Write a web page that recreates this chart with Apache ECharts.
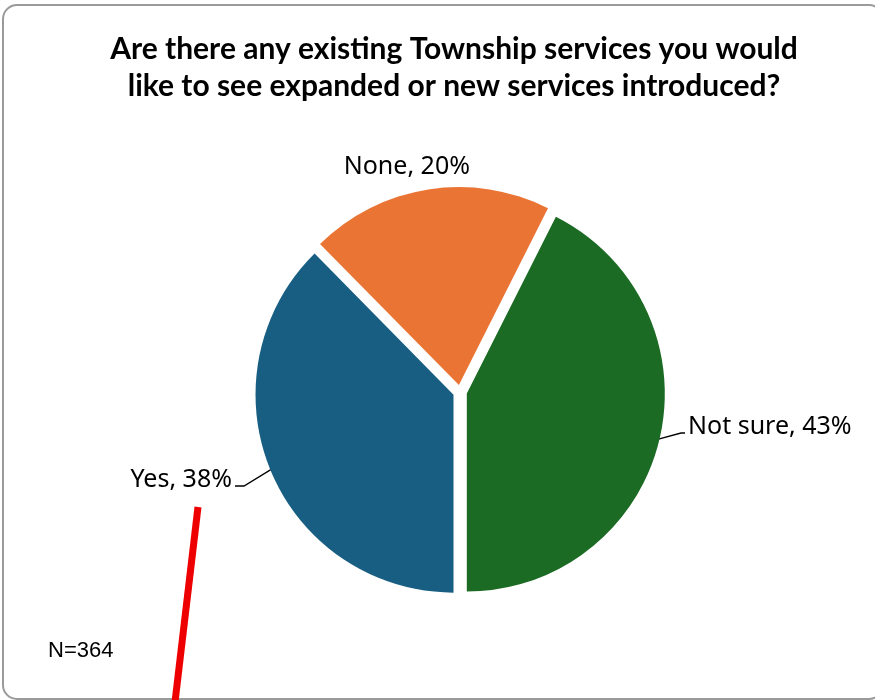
<!DOCTYPE html>
<html><head><meta charset="utf-8">
<script src="https://cdn.jsdelivr.net/npm/echarts@6/dist/echarts.min.js"></script>
<style>html,body{margin:0;padding:0;background:#fff}#c{width:875px;height:700px}</style>
</head><body><div id="c"></div>
<script>
const titleText = "Are there any existing Township services you would\nlike to see expanded or new services introduced?";
const categories = ["Yes", "None", "Not sure"];
const values = [38, 20, 43];
const colors = ["#175E82", "#EA7434", "#1C6B24"];
const noteText = "N=364";

const pieCenter = [460, 392];
const pieRadius = 198;
const explode = 7;
const pieStartDeg = -90;
const labelPos = {
  0: {x: 232, y: 480, align: 'right'},
  1: {x: 470, y: 167, align: 'right'},
  2: {x: 688, y: 427, align: 'left'}
};

const total = values.reduce((a, b) => a + b, 0);
function midDir(i) {
  let cum = 0;
  for (let j = 0; j < i; j++) cum += values[j];
  const frac = (cum + values[i] / 2) / total;
  const a = (pieStartDeg - frac * 360) * Math.PI / 180; // clockwise
  return [Math.cos(a), -Math.sin(a)];
}

function makeSeries(k) {
  const d = midDir(k);
  const c = [pieCenter[0] + d[0] * explode, pieCenter[1] + d[1] * explode];
  const l = labelPos[k];
  return {
    type: 'pie',
    name: categories[k],
    center: c,
    radius: pieRadius,
    startAngle: pieStartDeg,
    clockwise: true,
    silent: true,
    emphasis: {disabled: true},
    label: {
      show: true, position: 'outside',
      formatter: p => p.name + ', ' + p.value + '%',
      fontFamily: 'Noto Sans', fontSize: 25, color: '#000'
    },
    labelLine: {show: true, length: 10, length2: 8, smooth: false, lineStyle: {color: '#000', width: 1.3}},
    labelLayout: function (p) {
      const res = {x: l.x, y: l.y, align: l.align, verticalAlign: 'middle'};
      if (k !== 1) {
        const start = [c[0] + d[0] * (pieRadius - 1), c[1] + d[1] * (pieRadius - 1)];
        const dir = l.align === 'left' ? -1 : 1;
        const end = [l.x + dir * 3, l.y + 6];
        const elbow = [end[0] + dir * (l.align === 'left' ? 4 : 9), end[1]];
        res.labelLinePoints = [start, elbow, end];
      }
      return res;
    },
    data: categories.map((cat, i) => ({
      name: cat, value: values[i],
      itemStyle: {color: i === k ? colors[i] : 'rgba(0,0,0,0)'},
      label: {show: i === k},
      labelLine: {show: i === k && k !== 1}
    }))
  };
}

const chart = echarts.init(document.getElementById('c'), null, {renderer: 'canvas'});
chart.setOption({
  animation: false,
  title: {
    text: titleText,
    left: 449, top: 26, textAlign: 'center',
    textStyle: {fontFamily: 'Lato', fontWeight: 'bold', fontSize: 30, color: '#000', lineHeight: 37}
  },
  graphic: [
    {type: 'rect', shape: {x: 3, y: 5, width: 880, height: 694, r: 14}, style: {fill: 'none', stroke: '#9a9a9a', lineWidth: 2}, z: -1},
    {type: 'text', left: 48, top: 640, style: {text: noteText, font: '22px "Liberation Sans"', fill: '#000'}},
    {type: 'line', shape: {x1: 198, y1: 507, x2: 175, y2: 702}, style: {stroke: '#EE0000', lineWidth: 7}, z: 100}
  ],
  series: [makeSeries(0), makeSeries(1), makeSeries(2)]
});
</script></body></html>
